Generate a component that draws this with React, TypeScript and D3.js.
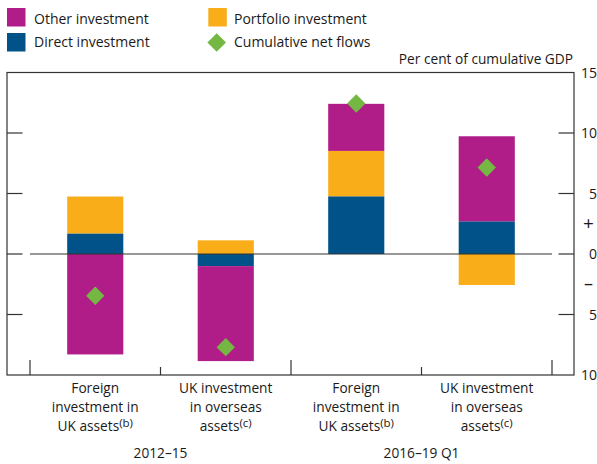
import React from "react";
import * as d3 from "d3";

const categories = ["fi1", "uk1", "fi2", "uk2"];
const catLabels = [
  ["Foreign", "investment in", "UK assets", "(b)"],
  ["UK investment", "in overseas", "assets", "(c)"],
  ["Foreign", "investment in", "UK assets", "(b)"],
  ["UK investment", "in overseas", "assets", "(c)"],
];
const periods = ["2012–15", "2016–19 Q1"];
const directInvestment = [1.7, -1.0, 4.77, 2.7];
const portfolioInvestment = [3.05, 1.13, 3.75, -2.56];
const otherInvestment = [-8.3, -7.85, 3.89, 7.03];
const cumulativeNetFlows = [-3.45, -7.7, 12.44, 7.15];
const yTicks = [15, 10, 5, 0, -5, -10];

const keys = ["direct", "portfolio", "other"];
const colors: Record<string, string> = {
  direct: "#005288",
  portfolio: "#F8AD19",
  other: "#B01C88",
};
const green = "#74B843";
const axisColor = "#333333";
const font = "'Open Sans', sans-serif";

export default function App() {
  const W = 597;
  const H = 464;
  const left = 7;
  const right = 574;
  const top = 72.5;
  const bottom = 375;

  const x = d3.scaleBand<string>().domain(categories).range([30, 552]).padding(0);
  const y = d3.scaleLinear().domain([-10, 15]).range([bottom, top]);
  const bw = x.bandwidth() * 0.43;

  const rows = categories.map((c, i) => ({
    cat: c,
    direct: directInvestment[i],
    portfolio: portfolioInvestment[i],
    other: otherInvestment[i],
  }));
  const stack = d3.stack<any>().keys(keys).offset(d3.stackOffsetDiverging);
  const series = stack(rows);

  const textColor = "#1a1a1a";

  return (
    <svg width={W} height={H} style={{ display: "block", position: "absolute", left: 0, top: 0 }} fontFamily={font}>
      {/* Legend */}
      <rect x={7} y={8} width={18.5} height={18.5} fill={colors.other} />
      <text x={34} y={23.5} fontSize={14} fill={textColor}>Other investment</text>
      <rect x={7} y={33} width={18.5} height={18.5} fill={colors.direct} />
      <text x={34} y={47} fontSize={14} fill={textColor}>Direct investment</text>
      <rect x={208.3} y={8} width={18.5} height={18.5} fill={colors.portfolio} />
      <text x={234} y={23.5} fontSize={14} fill={textColor}>Portfolio investment</text>
      <path d={`M216.7,${42.5 - 9.3} l9.3,9.3 l-9.3,9.3 l-9.3,-9.3 Z`} fill={green} />
      <text x={234} y={47} fontSize={14} fill={textColor}>Cumulative net flows</text>

      <text x={573} y={64} fontSize={13.7} textAnchor="end" fill={textColor}>Per cent of cumulative GDP</text>

      {/* Bars */}
      {series.map((s) =>
        s.map((d, i) => {
          const cat = categories[i];
          const cx = (x(cat) as number) + x.bandwidth() / 2;
          const y0 = y(d[0]);
          const y1 = y(d[1]);
          return (
            <rect
              key={s.key + i}
              x={cx - bw / 2}
              width={bw}
              y={Math.min(y0, y1)}
              height={Math.abs(y0 - y1)}
              fill={colors[s.key]}
            />
          );
        })
      )}

      {/* Zero line */}
      <line x1={30} x2={552} y1={y(0)} y2={y(0)} stroke={axisColor} strokeWidth={1.2} />

      {/* Frame */}
      <rect x={left} y={top} width={right - left} height={bottom - top} fill="none" stroke={axisColor} strokeWidth={1.2} />

      {/* Y ticks */}
      {yTicks.filter((t) => t !== 15 && t !== -10).map((t) => (
        <g key={t}>
          <line x1={left} x2={left + 15.5} y1={y(t)} y2={y(t)} stroke={axisColor} strokeWidth={1.2} />
          <line x1={right - 15.5} x2={right} y1={y(t)} y2={y(t)} stroke={axisColor} strokeWidth={1.2} />
        </g>
      ))}
      {yTicks.map((t) => (
        <text key={"l" + t} x={597} y={y(t) + 5} fontSize={14} textAnchor="end" fill={textColor}>
          {Math.abs(t)}
        </text>
      ))}
      <text x={588.5} y={y(2.5) + 6.5} fontSize={19} textAnchor="middle" fill={textColor}>+</text>
      <text x={588.5} y={y(-2.5) + 5.5} fontSize={18} textAnchor="middle" fill={textColor}>–</text>

      {/* X ticks */}
      {[0, 1, 2, 3, 4].map((k) => {
        const xx = 30 + k * x.bandwidth();
        const tall = k % 2 === 0;
        return (
          <line key={"xt" + k} x1={xx} x2={xx} y1={bottom} y2={tall ? bottom - 15 : bottom - 8} stroke={axisColor} strokeWidth={1.2} />
        );
      })}

      {/* Diamonds */}
      {cumulativeNetFlows.map((v, i) => {
        const cx = (x(categories[i]) as number) + x.bandwidth() / 2;
        const cy = y(v);
        const r = 9.2;
        return <path key={"d" + i} d={`M${cx},${cy - r} L${cx + r},${cy} L${cx},${cy + r} L${cx - r},${cy} Z`} fill={green} />;
      })}

      {/* Category labels */}
      {catLabels.map((lab, i) => {
        const cx = (x(categories[i]) as number) + x.bandwidth() / 2;
        return (
          <g key={"c" + i} fontSize={13.7} fill={textColor} textAnchor="middle">
            <text x={cx} y={393}>{lab[0]}</text>
            <text x={cx} y={412}>{lab[1]}</text>
            <text x={cx} y={431}>
              {lab[2]}
              <tspan fontSize={11.5} dy={-4}>{lab[3]}</tspan>
            </text>
          </g>
        );
      })}
      {periods.map((p, i) => (
        <text key={"p" + i} x={30 + (2 * i + 1) * x.bandwidth()} y={458} fontSize={13.7} textAnchor="middle" fill={textColor}>
          {p}
        </text>
      ))}
    </svg>
  );
}
